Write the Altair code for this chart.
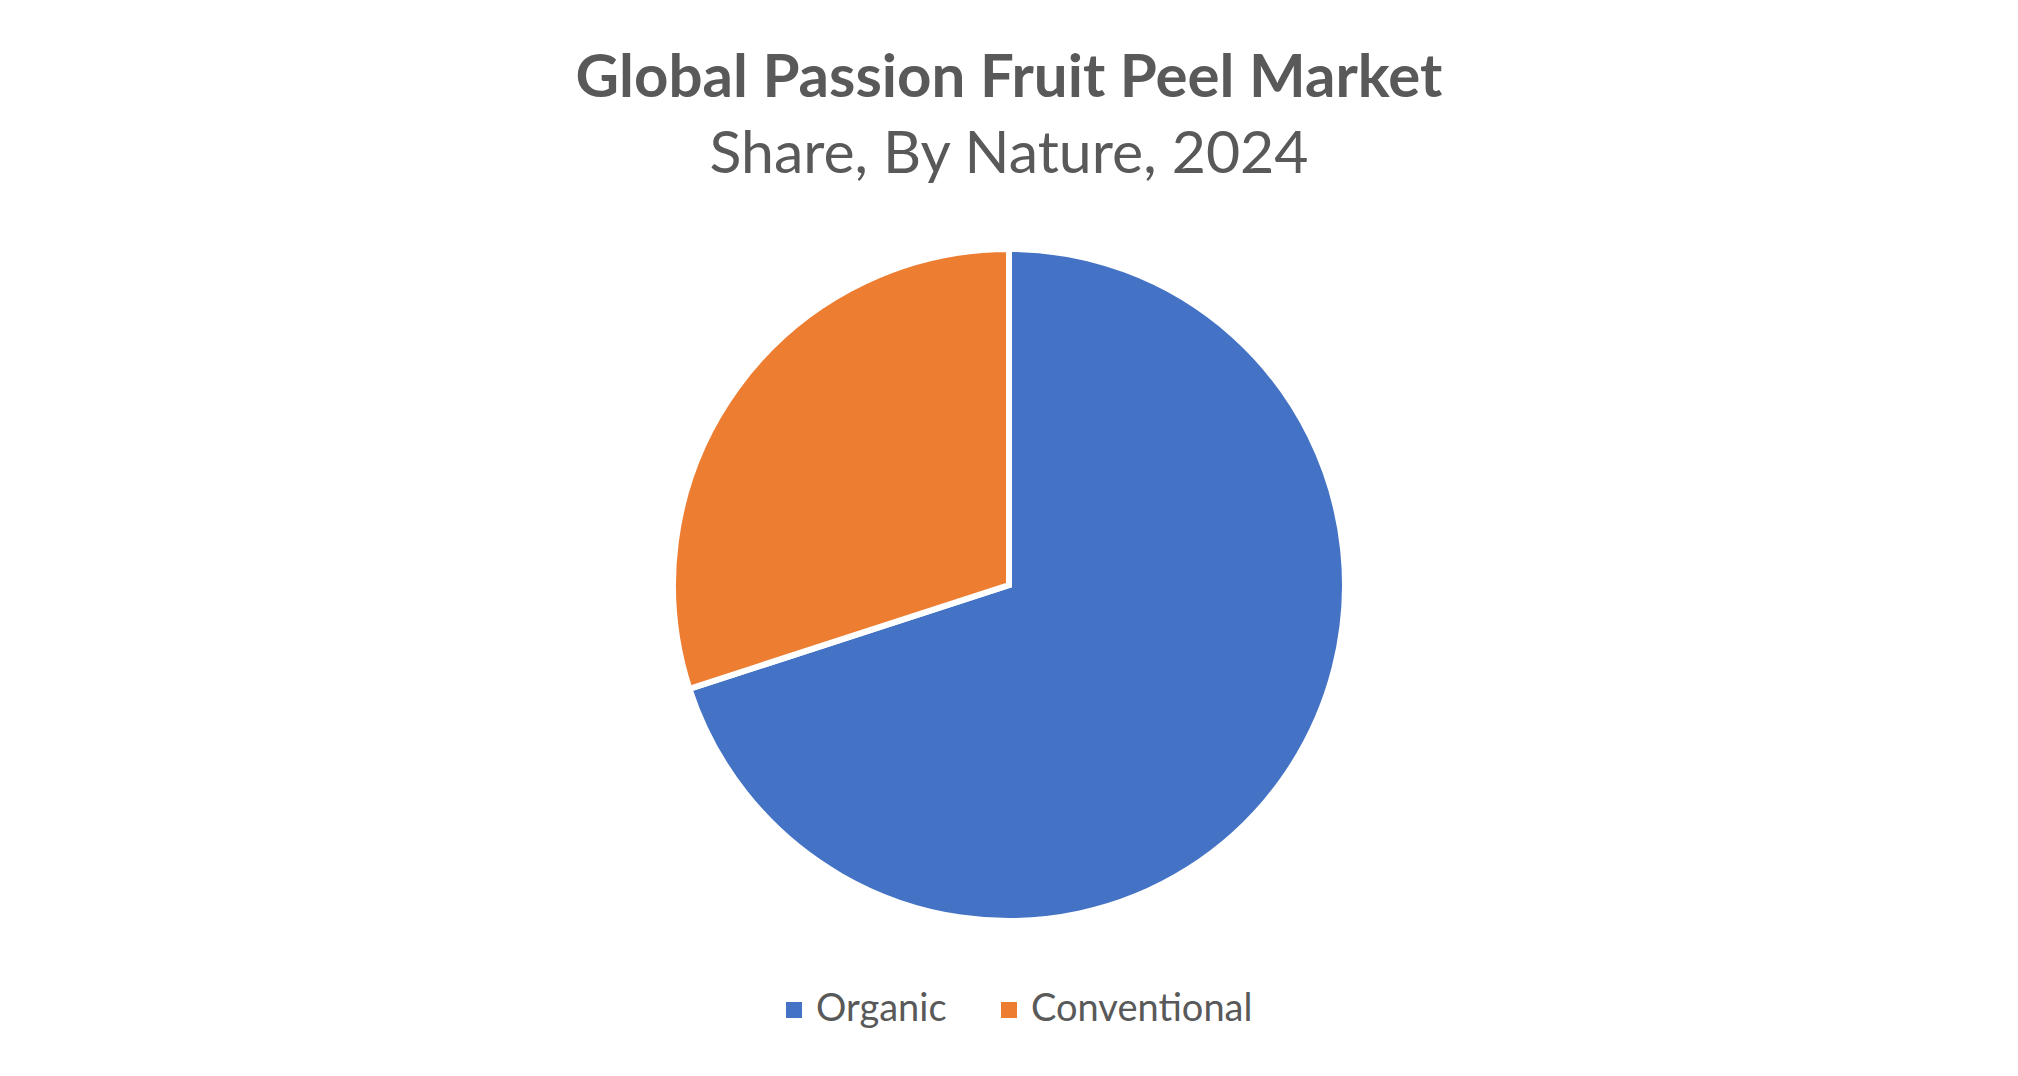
import altair as alt
import pandas as pd

categories = ["Organic", "Conventional"]
shares = [70, 30]
order = [1, 2]
colors = ["#4472C4", "#ED7D31"]

df = pd.DataFrame({"Nature": categories, "Share": shares, "order": order})

TOP = 200
W = 2002
H = 754

chart = (
    alt.Chart(df)
    .mark_arc(radius=336, stroke="white", strokeWidth=6)
    .encode(
        theta=alt.Theta("Share:Q", stack=True),
        order=alt.Order("order:Q"),
        color=alt.Color(
            "Nature:N",
            scale=alt.Scale(domain=categories, range=colors),
            legend=alt.Legend(
                title=None,
                orient="none",
                direction="horizontal",
                legendX=767,
                legendY=783,
                symbolType="square",
                symbolSize=256,
                symbolStrokeWidth=0,
                labelFont="Lato",
                labelFontSize=38,
                labelColor="#595959",
                labelOffset=3,
                labelLimit=0,
                columnPadding=43,
            ),
        ),
    )
    .properties(
        width=W,
        height=H,
        padding={"left": 0, "top": TOP, "right": 0, "bottom": 100},
        autosize=alt.AutoSizeParams(type="none"),
        title=alt.TitleParams(
            text="Global Passion Fruit Peel Market",
            subtitle="Share, By Nature, 2024",
            anchor="middle",
            font="Lato",
            fontSize=60,
            fontWeight="bold",
            color="#595959",
            subtitleFont="Lato",
            subtitleFontSize=59,
            subtitleColor="#595959",
            subtitlePadding=16,
            offset=22,
        ),
    )
    .configure_view(stroke=None)
)

chart.save("out.html", embed_options={"renderer": "svg", "actions": False})
